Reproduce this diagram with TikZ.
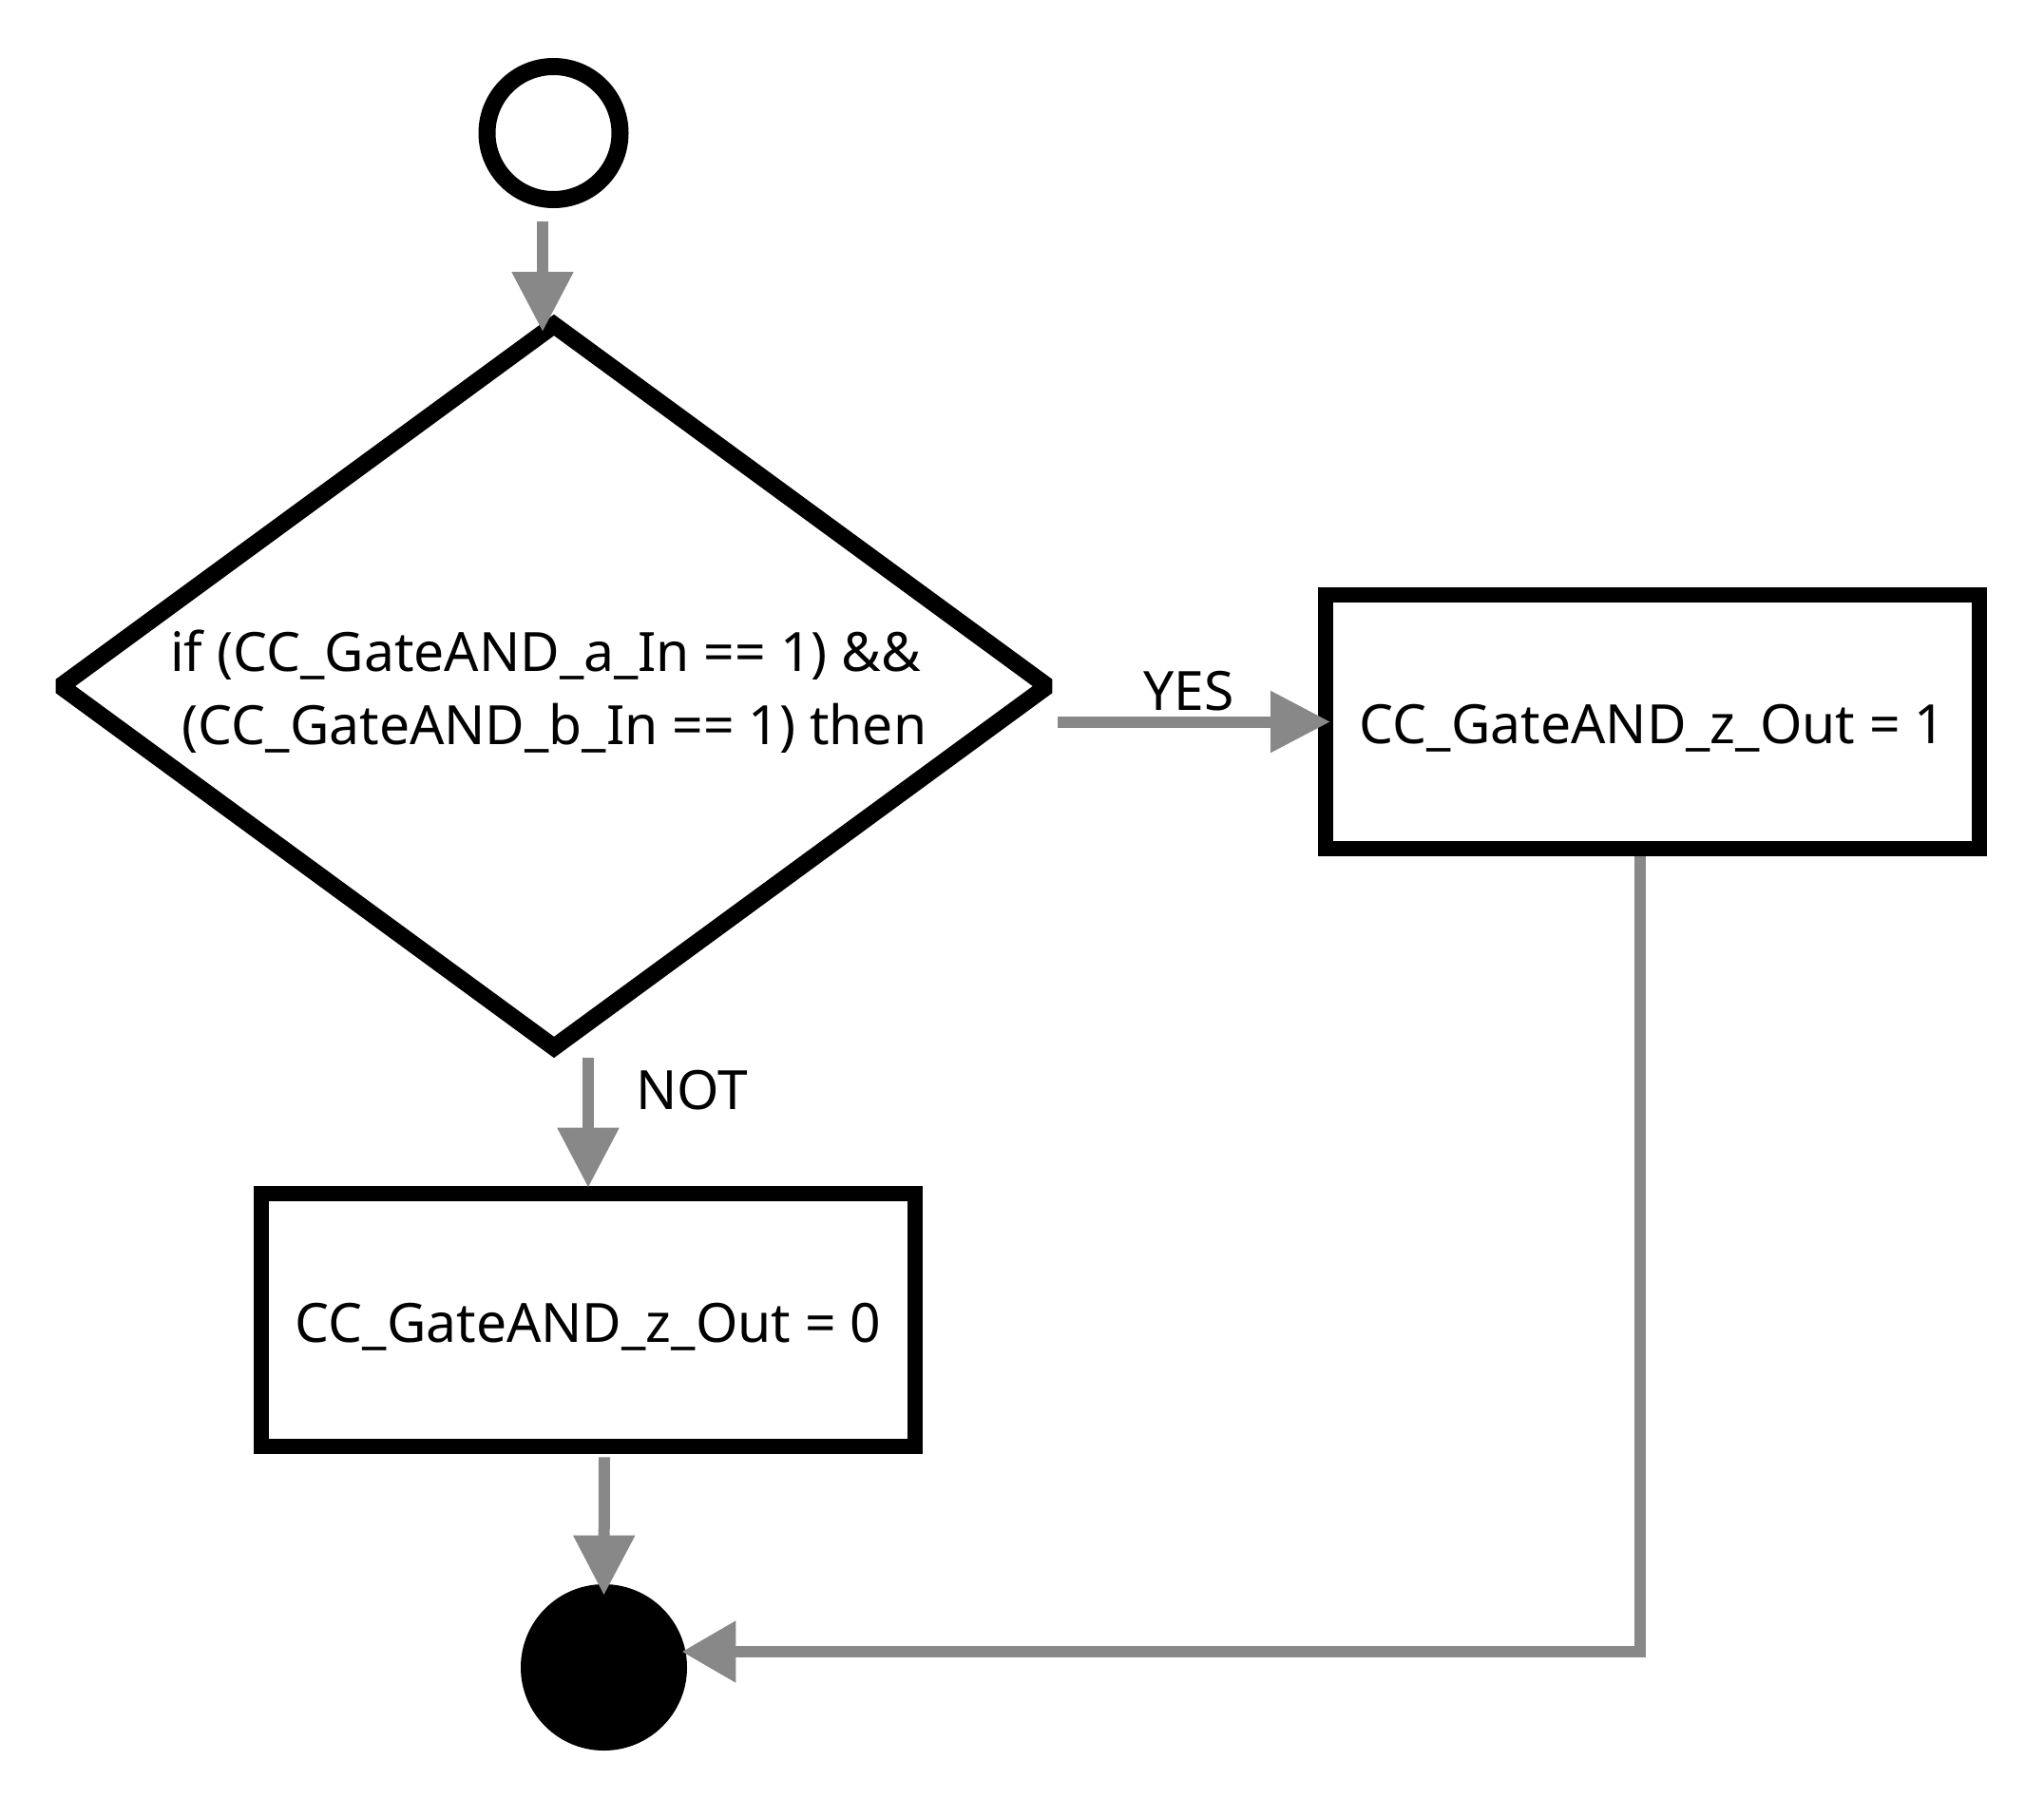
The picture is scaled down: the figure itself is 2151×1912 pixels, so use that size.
\documentclass[tikz,border=0pt]{standalone}
\usepackage{fontspec}
\setmainfont{Noto Sans}
\usetikzlibrary{shapes.geometric,arrows.meta,calc}
\definecolor{arrgray}{RGB}{136,136,136}
\tikzset{
  shapeline/.style={draw=black,line width=8pt,fill=white},
  actbox/.style={shapeline,rectangle,inner sep=0pt,minimum width=344pt,minimum height=133.3pt,
                 text height=23.3pt,text depth=0pt,font=\fontsize{28.5}{34}\selectfont},
  flow/.style={draw=arrgray,line width=6pt,-{Triangle[length=31.5pt,width=31pt]}},
  loopflow/.style={draw=arrgray,line width=6pt,-{Triangle[length=28.5pt,width=31pt]}},
  lbl/.style={font=\fontsize{28.5}{34}\selectfont,inner sep=0pt}
}
\begin{document}
\begin{tikzpicture}[x=0.5pt,y=-0.5pt]
\useasboundingbox (0,0) rectangle (2151,1912);
% start
\node[shapeline,line width=9pt,circle,minimum size=70pt,inner sep=0pt] (start) at (582.5,140) {};
% decision
\coordinate (dtop) at (583,342);
\coordinate (dbot) at (583,1102);
\coordinate (dleft) at (64,722);
\coordinate (dright) at (1102,722);
\draw[shapeline,line width=9pt,miter limit=1.5] (dtop) -- (dright) -- (dbot) -- (dleft) -- cycle;
\node[align=center,inner sep=0pt,font=\fontsize{28.5}{38.5}\selectfont] (dectext) at (578,728)
  {if (CC\_GateAND\_a\_In == 1) \&\&\hspace*{4pt}\\ \hspace*{5.5pt}(CC\_GateAND\_b\_In == 1) then};
% boxes
\node[actbox] (yesbox) at (1739,759.5) {CC\_GateAND\_z\_Out = 1};
\node[actbox] (nobox) at (619,1389) {CC\_GateAND\_z\_Out = 0};
% end
\node[circle,fill=black,minimum size=87.5pt,inner sep=0pt] (end) at (635.5,1754.5) {};
% connectors
\draw[flow] ([xshift=-5.75pt,yshift=-7pt]start.south) -- ([xshift=-6pt,yshift=-3.5pt]dtop);
\draw[flow] ([xshift=5.5pt]dright |- yesbox.west) -- ([xshift=6.5pt]yesbox.west)
  node[lbl,pos=0.48,above=2.5pt] {YES};
\draw[flow] ([yshift=-5.5pt]dbot -| nobox.north) -- ([yshift=-1pt]nobox.north)
  node[lbl,pos=0.25,right=22pt] {NOT};
\draw[flow] ([xshift=8.5pt,yshift=-1.5pt]nobox.south) -- ([yshift=-6pt]end.north);
\draw[loopflow] ([xshift=-6.75pt]yesbox.south) |- ([xshift=-3pt,yshift=8.25pt]end.east);
\end{tikzpicture}
\end{document}
